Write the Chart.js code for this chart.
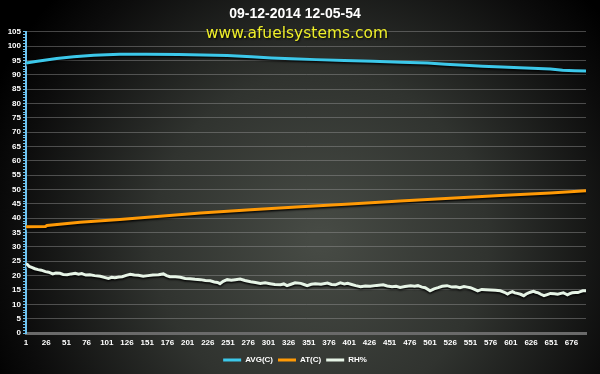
<!DOCTYPE html>
<html>
<head>
<meta charset="utf-8">
<script src="https://cdn.jsdelivr.net/npm/chart.js@4.4.1/dist/chart.umd.min.js"></script>
<style>
    html, body { margin: 0; padding: 0; background: #000; }
    canvas { display: block; }
</style>
</head>
<body>
<canvas id="tempChart" width="600" height="374"></canvas>
<script>
// titoli
const chartTitle = '09-12-2014 12-05-54';
const chartSubtitle = 'www.afuelsystems.com';

// etichette asse x (indice del campione)
const xTicks = [1, 26, 51, 76, 101, 126, 151, 176, 201, 226, 251, 276, 301, 326, 351,
    376, 401, 426, 451, 476, 501, 526, 551, 576, 601, 626, 651, 676];
const lastSample = 694;
const yMax = 105;

// AVG(C)
const avgX = [1, 15, 39, 60, 85, 117, 150, 190, 220, 250, 280, 305, 330, 360, 395,
    430, 465, 498, 520, 544, 566, 590, 612, 635, 650, 665, 680, 694];
const avgY = [94.1, 94.7, 95.7, 96.3, 96.8, 97.2, 97.2, 97.1, 96.9, 96.7, 96.3, 95.9, 95.6, 95.3, 95.0,
    94.7, 94.4, 94.1, 93.7, 93.3, 93.0, 92.7, 92.5, 92.2, 92.0, 91.6, 91.4, 91.3];

// AT(C)
const atX = [1, 25, 27, 68, 117, 167, 217, 279, 341, 402, 464, 526, 588, 650, 694];
const atY = [37.0, 37.1, 37.5, 38.6, 39.6, 40.7, 41.8, 43.0, 44.0, 45.0, 46.0, 47.0, 47.9, 48.8, 49.6];

// RH%
const rhX = [1, 3, 5, 8, 12, 16, 20, 25, 29, 34, 38, 43, 47, 52, 57, 62, 66, 70, 75, 80,
    86, 93, 98, 103, 107, 111, 116, 120, 125, 130, 135, 140, 146, 152, 158, 165, 171, 175, 179, 186,
    192, 198, 204, 210, 217, 223, 229, 234, 238, 241, 245, 250, 255, 260, 266, 272, 279, 285, 291, 297,
    303, 309, 316, 320, 324, 329, 334, 341, 345, 349, 354, 359, 366, 374, 379, 384, 390, 395, 399, 404,
    409, 415, 421, 427, 435, 443, 448, 454, 459, 464, 470, 477, 482, 486, 491, 495, 501, 506, 511, 516,
    522, 528, 533, 538, 543, 547, 551, 556, 560, 565, 570, 576, 582, 588, 593, 597, 600, 603, 606, 609,
    613, 617, 620, 623, 626, 629, 632, 635, 638, 642, 646, 650, 655, 659, 663, 666, 669, 671, 674, 677,
    681, 684, 687, 690, 694];
const rhY = [24.1, 23.8, 23.2, 22.9, 22.4, 22.1, 21.9, 21.4, 21.2, 20.6, 20.9, 20.8, 20.4, 20.3, 20.6, 20.8, 20.5, 20.7, 20.2, 20.3,
    20.0, 19.8, 19.4, 19.0, 19.4, 19.3, 19.5, 19.6, 20.1, 20.5, 20.2, 20.1, 19.8, 20.0, 20.2, 20.3, 20.6, 20.0, 19.6, 19.6,
    19.4, 19.0, 18.9, 18.7, 18.6, 18.3, 18.2, 17.8, 17.6, 17.2, 18.0, 18.6, 18.4, 18.6, 18.8, 18.3, 17.9, 17.6, 17.3, 17.5,
    17.2, 16.9, 16.8, 17.1, 16.5, 17.0, 17.5, 17.3, 16.9, 16.5, 17.0, 17.2, 17.0, 17.4, 16.9, 16.8, 17.5, 17.1, 17.3, 16.9,
    16.5, 16.1, 16.4, 16.3, 16.6, 16.8, 16.4, 16.1, 16.3, 15.9, 16.2, 16.5, 16.3, 16.5, 16.0, 15.8, 14.7, 15.4, 15.8, 16.3,
    16.5, 16.0, 16.1, 15.8, 16.2, 16.0, 15.8, 15.2, 14.7, 15.2, 15.1, 15.0, 14.9, 14.7, 14.2, 13.6, 14.1, 14.4, 14.0, 13.8,
    13.5, 13.0, 13.6, 14.0, 14.3, 14.5, 14.2, 14.0, 13.5, 13.0, 13.4, 13.8, 13.7, 13.5, 13.8, 14.0, 13.6, 13.3, 13.7, 14.0,
    14.1, 14.1, 14.4, 14.7, 14.7];

function toPoints(xs, ys) {
    return xs.map((x, i) => ({ x: x, y: ys[i] }));
}

// sfondo sfumato scuro
const backgroundPlugin = {
    id: 'darkBackground',
    beforeDraw(chart) {
        const ctx = chart.ctx;
        const w = chart.width, h = chart.height;
        ctx.save();
        ctx.fillStyle = '#000';
        ctx.fillRect(0, 0, w, h);
        const g = ctx.createRadialGradient(320, 240, 10, 320, 240, 360);
        g.addColorStop(0, '#464a44');
        g.addColorStop(0.45, '#30332f');
        g.addColorStop(0.85, '#0c0c0c');
        g.addColorStop(1, '#000');
        ctx.fillStyle = g;
        ctx.fillRect(0, 0, w, h);
        ctx.restore();
    },
    afterDraw(chart) {
        // sottotitolo giallo sopra l'area del grafico
        const ctx = chart.ctx;
        ctx.save();
        ctx.font = '15.5px "DejaVu Sans"';
        ctx.textAlign = 'center';
        ctx.textBaseline = 'middle';
        ctx.shadowColor = 'rgba(0,0,0,0.9)';
        ctx.shadowBlur = 2;
        ctx.shadowOffsetX = 1;
        ctx.shadowOffsetY = 1;
        ctx.fillStyle = '#eeee2a';
        ctx.fillText(chartSubtitle, 297, 34);
        ctx.restore();
    }
};

// ombra sotto le linee
const shadowPlugin = {
    id: 'lineShadow',
    beforeDatasetDraw(chart) {
        const ctx = chart.ctx;
        ctx.save();
        ctx.shadowColor = 'rgba(0,0,0,0.9)';
        ctx.shadowBlur = 2;
        ctx.shadowOffsetY = 1.5;
    },
    afterDatasetDraw(chart) {
        chart.ctx.restore();
    }
};

Chart.defaults.font.family = "'Liberation Sans', Arial, sans-serif";

const ctx = document.getElementById('tempChart').getContext('2d');
new Chart(ctx, {
    type: 'line',
    data: {
        datasets: [{
            label: 'AVG(C)',
            data: toPoints(avgX, avgY),
            borderColor: '#3cc8ea',
            backgroundColor: '#3cc8ea',
            borderWidth: 3,
            pointRadius: 0,
            tension: 0
        }, {
            label: 'AT(C)',
            data: toPoints(atX, atY),
            borderColor: '#ff9a06',
            backgroundColor: '#ff9a06',
            borderWidth: 3,
            pointRadius: 0,
            tension: 0
        }, {
            label: 'RH%',
            data: toPoints(rhX, rhY),
            borderColor: '#e6f4e6',
            backgroundColor: '#e6f4e6',
            borderWidth: 3,
            pointRadius: 0,
            tension: 0
        }]
    },
    options: {
        responsive: false,
        animation: false,
        layout: {
            padding: { left: 4, right: 14, top: 0, bottom: 0 }
        },
        plugins: {
            title: {
                display: true,
                text: chartTitle,
                color: '#fff',
                font: { size: 14, weight: 'bold' },
                padding: { top: 6, bottom: 9 }
            },
            legend: {
                position: 'bottom',
                labels: {
                    color: '#fff',
                    font: { size: 8, weight: 'bold' },
                    usePointStyle: true,
                    pointStyle: 'line',
                    pointStyleWidth: 18,
                    boxHeight: 8,
                    padding: 5
                }
            },
            tooltip: { enabled: false }
        },
        scales: {
            x: {
                type: 'linear',
                min: 1,
                max: lastSample,
                afterBuildTicks: scale => {
                    scale.ticks = xTicks.map(v => ({ value: v }));
                },
                afterFit: scale => { scale.height = 18; },
                ticks: {
                    autoSkip: false,
                    maxRotation: 0,
                    color: '#fff',
                    font: { size: 8, weight: 'bold' },
                    padding: 5
                },
                grid: { display: false, drawTicks: false },
                border: { color: '#6a6a6a', width: 3, dash: [1, 1] }
            },
            y: {
                min: 0,
                max: yMax,
                afterFit: scale => { scale.width = 22; },
                ticks: {
                    stepSize: 1,
                    autoSkip: false,
                    color: '#fff',
                    font: { size: 8, weight: 'bold' },
                    padding: 2,
                    callback: v => (v % 5 === 0 ? v : '')
                },
                grid: {
                    color: c => (c.tick && c.tick.value % 5 === 0 && c.tick.value > 0) ? 'rgba(150,150,150,0.45)' : 'rgba(0,0,0,0)',
                    tickColor: '#6ec3f0',
                    tickLength: 3
                },
                border: { color: '#6ec3f0', width: 2 }
            }
        }
    },
    plugins: [backgroundPlugin, shadowPlugin]
});
</script>
</body>
</html>
